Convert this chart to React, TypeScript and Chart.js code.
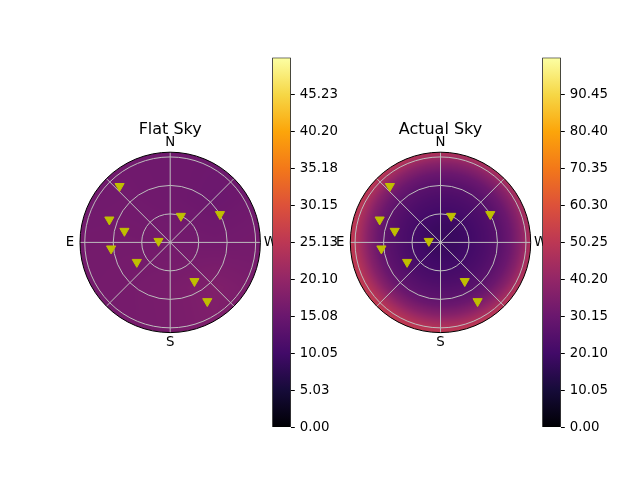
import React, { useEffect, useRef } from 'react';
import { Chart, registerables } from 'chart.js';
Chart.register(...registerables);

// ---- data ----
const starAzimuth = [42, 69.5, 76, 96, 120.5, 83.5, 338, 299.5, 212, 212.2];
const starZenith = [79.7, 68.4, 49.7, 62.6, 40.8, 12.4, 30.0, 60.2, 48.2, 73.3];
const ringRadii = [30, 60, 90];
const spokeAngles = [0, 45, 90, 135, 180, 225, 270, 315];
const compassLabels = ['N', 'E', 'S', 'W'];
const compassAngles = [0, 90, 180, 270];
const rMax = 95;

// flat sky brightness on a coarse 5x5 grid (rows N->S, cols E->W)
const flatSkyGrid = [
  [16.0, 15.8, 15.6, 15.5, 16.0],
  [15.8, 16.0, 15.7, 15.2, 15.8],
  [16.2, 16.3, 16.2, 16.0, 16.3],
  [16.3, 16.5, 16.9, 17.8, 16.8],
  [16.5, 16.5, 16.8, 17.5, 16.8],
];
// actual sky brightness radial profile
const actualProfileDist = [0, 15, 30, 45, 60, 70, 80, 88, 95, 105, 140];
const actualProfileValue = [18, 18.5, 20.5, 23, 26.5, 30.5, 37, 44, 49.5, 54, 60];
const actualCenterOffset = [4, 3];

const flatMax = 50.25;
const actualMax = 100.5;
const flatTickValues = [0, 5.025, 10.05, 15.075, 20.1, 25.125, 30.15, 35.175, 40.2, 45.225];
const flatTickLabels = ['0.00', '5.03', '10.05', '15.08', '20.10', '25.13', '30.15', '35.18', '40.20', '45.23'];
const actualTickValues = [0, 10.05, 20.1, 30.15, 40.2, 50.25, 60.3, 70.35, 80.4, 90.45];
const actualTickLabels = ['0.00', '10.05', '20.10', '30.15', '40.20', '50.25', '60.30', '70.35', '80.40', '90.45'];

const infernoStops = ['#000004', '#160b39', '#420a68', '#6a176e', '#932667', '#bc3754', '#dd513a', '#f37819', '#fca50a', '#f6d746', '#fcffa4'];

const FONT = "'DejaVu Sans', sans-serif";

function hexToRgb(h: string) {
  return [parseInt(h.slice(1, 3), 16), parseInt(h.slice(3, 5), 16), parseInt(h.slice(5, 7), 16)];
}
const infernoRgb = infernoStops.map(hexToRgb);
function inferno(t: number) {
  t = Math.max(0, Math.min(1, t));
  const f = t * (infernoRgb.length - 1);
  const i = Math.min(infernoRgb.length - 2, Math.floor(f));
  const u = f - i;
  const a = infernoRgb[i], b = infernoRgb[i + 1];
  return [a[0] + (b[0] - a[0]) * u, a[1] + (b[1] - a[1]) * u, a[2] + (b[2] - a[2]) * u];
}

function flatSkyValue(x: number, y: number) {
  const n = flatSkyGrid.length;
  const step = (2 * rMax) / (n - 1);
  let c = (x + rMax) / step;
  let r = (rMax - y) / step;
  c = Math.max(0, Math.min(n - 1.0001, c));
  r = Math.max(0, Math.min(n - 1.0001, r));
  const c0 = Math.floor(c), r0 = Math.floor(r);
  const u = c - c0, v = r - r0;
  const g = flatSkyGrid;
  return (
    g[r0][c0] * (1 - u) * (1 - v) + g[r0][c0 + 1] * u * (1 - v) +
    g[r0 + 1][c0] * (1 - u) * v + g[r0 + 1][c0 + 1] * u * v
  );
}
function actualSkyValue(x: number, y: number) {
  const d = Math.hypot(x - actualCenterOffset[0], y - actualCenterOffset[1]);
  const ds = actualProfileDist, vs = actualProfileValue;
  for (let i = 0; i < ds.length - 1; i++) {
    if (d <= ds[i + 1]) {
      const u = (d - ds[i]) / (ds[i + 1] - ds[i]);
      return vs[i] + (vs[i + 1] - vs[i]) * u;
    }
  }
  return vs[vs.length - 1];
}

const toX = (az: number, z: number) => -z * Math.sin((az * Math.PI) / 180);
const toY = (az: number, z: number) => z * Math.cos((az * Math.PI) / 180);

function polarConfig(title: string, field: (x: number, y: number) => number, vmax: number, cx: number): any {
  const cy = 242.4;
  const R = 90.2;
  const skyPlugin = {
    id: 'sky',
    beforeDatasetsDraw(chart: any) {
      const { ctx, chartArea, scales } = chart;
      const xs = scales.x, ys = scales.y;
      const pcx = xs.getPixelForValue(0), pcy = ys.getPixelForValue(0);
      const pr = xs.getPixelForValue(rMax) - pcx;
      const dpr = chart.currentDevicePixelRatio || 1;
      const w = Math.ceil((chartArea.right - chartArea.left) * dpr);
      const h = Math.ceil((chartArea.bottom - chartArea.top) * dpr);
      const off = document.createElement('canvas');
      off.width = w; off.height = h;
      const octx = off.getContext('2d')!;
      const img = octx.createImageData(w, h);
      for (let j = 0; j < h; j++) {
        const dy = ys.getValueForPixel(chartArea.top + (j + 0.5) / dpr);
        for (let i = 0; i < w; i++) {
          const dx = xs.getValueForPixel(chartArea.left + (i + 0.5) / dpr);
          const c = inferno(field(dx, dy) / vmax);
          const k = (j * w + i) * 4;
          img.data[k] = c[0]; img.data[k + 1] = c[1]; img.data[k + 2] = c[2]; img.data[k + 3] = 255;
        }
      }
      octx.putImageData(img, 0, 0);
      ctx.save();
      ctx.beginPath();
      ctx.arc(pcx, pcy, pr, 0, Math.PI * 2);
      ctx.clip();
      ctx.drawImage(off, chartArea.left, chartArea.top, chartArea.right - chartArea.left, chartArea.bottom - chartArea.top);
      // grid
      ctx.strokeStyle = '#bdbdbd';
      ctx.lineWidth = 1;
      ringRadii.forEach((r) => {
        const rr = xs.getPixelForValue(r) - pcx;
        ctx.beginPath();
        ctx.arc(pcx, pcy, rr, 0, Math.PI * 2);
        ctx.stroke();
      });
      spokeAngles.forEach((a) => {
        ctx.beginPath();
        ctx.moveTo(pcx, pcy);
        ctx.lineTo(xs.getPixelForValue(toX(a, rMax)), ys.getPixelForValue(toY(a, rMax)));
        ctx.stroke();
      });
      ctx.restore();
      ctx.save();
      ctx.strokeStyle = '#000';
      ctx.lineWidth = 1;
      ctx.beginPath();
      ctx.arc(pcx, pcy, pr, 0, Math.PI * 2);
      ctx.stroke();
      ctx.restore();
    },
    afterDraw(chart: any) {
      const { ctx, scales } = chart;
      const xs = scales.x, ys = scales.y;
      const pcx = xs.getPixelForValue(0), pcy = ys.getPixelForValue(0);
      const pr = xs.getPixelForValue(rMax) - pcx;
      ctx.save();
      ctx.fillStyle = '#000';
      ctx.textAlign = 'center';
      ctx.textBaseline = 'middle';
      ctx.font = `13.33px ${FONT}`;
      compassLabels.forEach((lab, i) => {
        const a = (compassAngles[i] * Math.PI) / 180;
        const d = pr + 10;
        ctx.fillText(lab, pcx - d * Math.sin(a), pcy - d * Math.cos(a));
      });
      ctx.font = `16px ${FONT}`;
      ctx.fillText(title, pcx, pcy - pr - 22.5);
      ctx.restore();
    },
  };
  return {
    type: 'scatter',
    data: {
      datasets: [
        {
          data: starAzimuth.map((az, i) => ({ x: toX(az, starZenith[i]), y: toY(az, starZenith[i]) })),
          pointStyle: 'triangle',
          rotation: 180,
          radius: 5.3,
          backgroundColor: '#bfbf00',
          borderColor: '#bfbf00',
          borderWidth: 1,
        },
      ],
    },
    options: {
      animation: false,
      responsive: false,
      events: [],
      layout: { padding: { left: cx - R, right: 640 - (cx + R), top: cy - R, bottom: 480 - (cy + R) } },
      plugins: { legend: { display: false }, tooltip: { enabled: false }, title: { display: false } },
      scales: {
        x: { type: 'linear', min: -rMax, max: rMax, display: false },
        y: { type: 'linear', min: -rMax, max: rMax, display: false },
      },
    },
    plugins: [skyPlugin],
  };
}

function colorbarConfig(vmax: number, tickValues: number[], tickLabels: string[], left: number, right: number): any {
  const axisW = 60;
  return {
    type: 'bar',
    data: {
      labels: ['cb'],
      datasets: [
        {
          data: [vmax],
          barPercentage: 1,
          categoryPercentage: 1,
          borderColor: '#000',
          borderWidth: 1,
          borderSkipped: false,
          backgroundColor: (c: any) => {
            const chart = c.chart;
            const ca = chart.chartArea;
            if (!ca) return '#000';
            const g = chart.ctx.createLinearGradient(0, ca.bottom, 0, ca.top);
            infernoStops.forEach((s, i) => g.addColorStop(i / (infernoStops.length - 1), s));
            return g;
          },
        },
      ],
    },
    options: {
      animation: false,
      responsive: false,
      events: [],
      layout: { padding: { left, right: 640 - right - axisW, top: 57.6, bottom: 480 - 427.2 } },
      plugins: { legend: { display: false }, tooltip: { enabled: false } },
      scales: {
        x: { display: false },
        y: {
          position: 'right',
          min: 0,
          max: vmax,
          afterFit: (s: any) => { s.width = axisW; },
          afterBuildTicks: (s: any) => { s.ticks = tickValues.map((v) => ({ value: v })); },
          grid: { drawOnChartArea: false, drawTicks: true, tickLength: 4, color: '#000', lineWidth: 1 },
          border: { display: false },
          ticks: {
            color: '#000',
            padding: 5,
            font: { family: FONT, size: 13.33 },
            callback: (_v: any, i: number) => tickLabels[i],
          },
        },
      },
    },
  };
}

function ChartCanvas({ config }: { config: () => any }) {
  const ref = useRef<HTMLCanvasElement>(null);
  useEffect(() => {
    const chart = new Chart(ref.current!, config());
    return () => chart.destroy();
  }, []);
  return (
    <canvas
      ref={ref}
      width={640}
      height={480}
      style={{ position: 'absolute', left: 0, top: 0, width: 640, height: 480 }}
    />
  );
}

export default function App() {
  return (
    <div style={{ position: 'absolute', left: 0, top: 0, width: 640, height: 480, background: '#fff' }}>
      <ChartCanvas config={() => polarConfig('Flat Sky', flatSkyValue, flatMax, 170.2)} />
      <ChartCanvas config={() => polarConfig('Actual Sky', actualSkyValue, actualMax, 440.5)} />
      <ChartCanvas config={() => colorbarConfig(flatMax, flatTickValues, flatTickLabels, 272.3, 290.8)} />
      <ChartCanvas config={() => colorbarConfig(actualMax, actualTickValues, actualTickLabels, 542.3, 560.8)} />
    </div>
  );
}
